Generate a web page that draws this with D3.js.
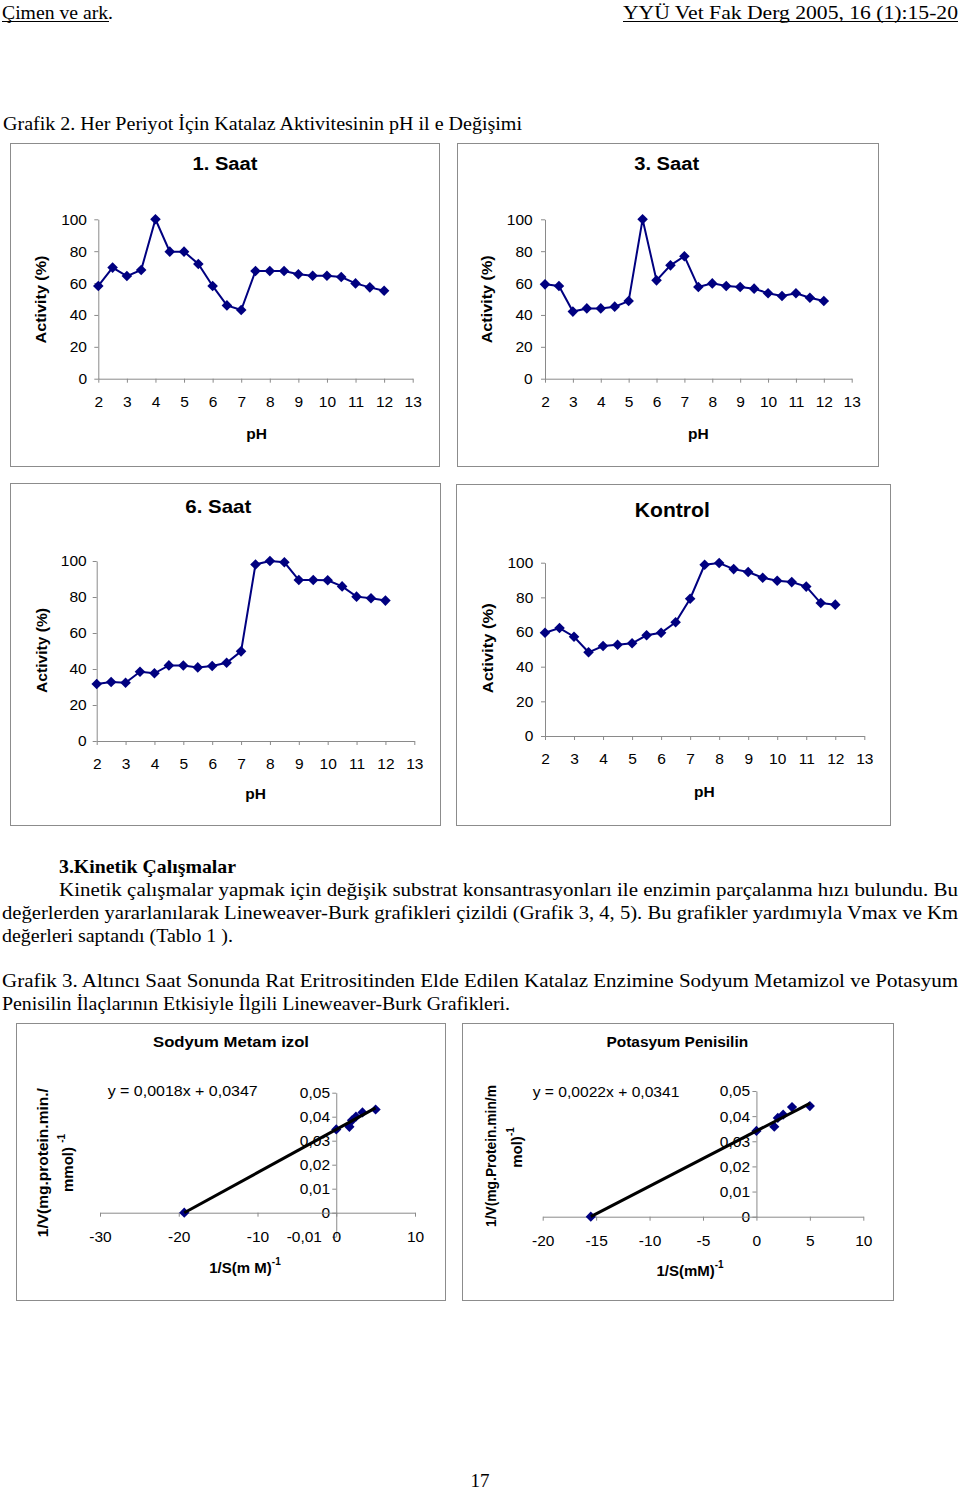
<!DOCTYPE html>
<html><head><meta charset="utf-8">
<script src="https://cdn.jsdelivr.net/npm/d3@7"></script>
<style>body{margin:0;background:#fff}svg{display:block}</style>
</head><body>
<svg id="page" width="960" height="1493"></svg>
<script>
// ---------- data ----------
const phValues = [2,2.5,3,3.5,4,4.5,5,5.5,6,6.5,7,7.5,8,8.5,9,9.5,10,10.5,11,11.5,12];
const phTicks = [2,3,4,5,6,7,8,9,10,11,12,13];
const activityTicks = [0,20,40,60,80,100];
const saat1 = [58.2,69.7,64.4,68.2,100,79.7,79.7,72.0,58.2,46.0,43.1,67.6,67.6,67.6,65.5,64.6,64.6,63.8,59.8,57.3,55.2];
const saat3 = [59.2,58.2,42.1,44.1,44.1,45.2,48.7,100,61.7,71.1,76.8,57.5,59.8,58.2,57.5,56.5,53.6,51.9,53.6,50.8,48.7];
const saat6 = [31.7,32.8,32.4,38.5,37.6,42.0,41.9,40.9,41.7,43.5,49.8,98.1,100,99.3,89.4,89.4,89.3,85.9,80.2,79.3,78.0];
const kontrol = [59.6,62.3,57.3,48.3,51.9,52.7,53.5,58.1,59.6,65.6,79.2,98.8,99.8,96.3,94.6,91.3,89.6,88.8,86.2,76.7,75.8];
const chartTitles = ["1. Saat","3. Saat","6. Saat","Kontrol"];

const smX = [-19.3,0,1.67,2,2.5,3.33,5];
const smY = [0,0.0347,0.0358,0.0385,0.0400,0.0418,0.0430];
const smTrend = [0.0018,0.0347];
const smXTicks = [-30,-20,-10,0,10];
const smXTickLabels = ["-30","-20","-10","0","10"];
const smYTicks = [-0.01,0,0.01,0.02,0.03,0.04,0.05];
const smYTickLabels = ["-0,01","0","0,01","0,02","0,03","0,04","0,05"];

const ppX = [-15.5,0,1.67,2,2.5,3.33,5];
const ppY = [0,0.0341,0.0358,0.0393,0.0406,0.0436,0.0440];
const ppTrend = [0.0022,0.0341];
const ppXTicks = [-20,-15,-10,-5,0,5,10];
const ppXTickLabels = ["-20","-15","-10","-5","0","5","10"];
const ppYTicks = [0,0.01,0.02,0.03,0.04,0.05];
const ppYTickLabels = ["0","0,01","0,02","0,03","0,04","0,05"];

// ---------- helpers ----------
const svg = d3.select("#page");
const SANS = "'Liberation Sans', Arial, Helvetica, sans-serif";
const SERIF = "'Liberation Serif', 'Times New Roman', serif";
const NAVY = "#000080";
const AXIS = "#8a8a8a";
const BORDER = "#8c8c8c";

function T(g, x, y, s, o = {}) {
  const t = g.append("text").attr("x", x).attr("y", y)
    .attr("font-family", o.family || SANS)
    .attr("font-size", o.size || 15)
    .attr("font-weight", o.weight || "normal")
    .attr("text-anchor", o.anchor || "start")
    .attr("fill", "#000");
  if (s !== null) t.text(s);
  if (o.central) t.attr("dominant-baseline", "central");
  if (o.len) t.attr("textLength", o.len).attr("lengthAdjust", "spacingAndGlyphs");
  if (o.rotate) t.attr("transform", `rotate(-90 ${x} ${y})`);
  return t;
}
function sup(t, main, supTxt, size) {
  t.append("tspan").text(main);
  t.append("tspan").text(supTxt).attr("font-size", size).attr("dy", -6);
}

// ---------- page text ----------
T(svg, 2, 19, "Çimen ve ark.", {family: SERIF, size: 19, len: 111});
svg.append("line").attr("x1", 2).attr("x2", 109).attr("y1", 21.5).attr("y2", 21.5).attr("stroke", "#000");
T(svg, 623, 19, "YYÜ Vet Fak Derg 2005, 16 (1):15-20", {family: SERIF, size: 19, len: 335});
svg.append("line").attr("x1", 623).attr("x2", 958).attr("y1", 21.5).attr("y2", 21.5).attr("stroke", "#000");
T(svg, 3, 130, "Grafik 2. Her Periyot İçin Katalaz Aktivitesinin  pH il e Değişimi", {family: SERIF, size: 19, len: 519});

T(svg, 59, 873, "3.Kinetik Çalışmalar", {family: SERIF, size: 19, weight: "bold", len: 177});
T(svg, 59, 896, "Kinetik çalışmalar yapmak için değişik substrat konsantrasyonları ile enzimin parçalanma hızı bulundu. Bu", {family: SERIF, size: 19, len: 899});
T(svg, 2, 919, "değerlerden yararlanılarak Lineweaver-Burk grafikleri çizildi (Grafik 3, 4, 5). Bu grafikler yardımıyla Vmax ve Km", {family: SERIF, size: 19, len: 956});
T(svg, 2, 942, "değerleri saptandı (Tablo 1 ).", {family: SERIF, size: 19, len: 231});
T(svg, 2, 987, "Grafik 3. Altıncı Saat Sonunda Rat Eritrositinden Elde Edilen Katalaz Enzimine  Sodyum Metamizol ve Potasyum", {family: SERIF, size: 19, len: 956});
T(svg, 2, 1010, "Penisilin İlaçlarının Etkisiyle İlgili Lineweaver-Burk Grafikleri.", {family: SERIF, size: 19, len: 508});
T(svg, 480, 1487, "17", {family: SERIF, size: 19, anchor: "middle"});

// ---------- pH charts ----------
const phCharts = [
  {data: saat1, title: chartTitles[0], box: [10,143,429,323], xr: [98.3,412.7], yr: [378.7,219.3], yLabR: 87, xLabY: 401.5, tc: [225,164], tw: 65, ts: 17.5, yl: [40.7,299.5], ylw: 88, ph: [256.7,433]},
  {data: saat3, title: chartTitles[1], box: [457,143,421,323], xr: [545,851.7], yr: [378.7,219.3], yLabR: 532.7, xLabY: 401.5, tc: [666.7,164], tw: 65, ts: 17.5, yl: [486.7,299.3], ylw: 88, ph: [698.3,433]},
  {data: saat6, title: chartTitles[2], box: [10,483,430,342], xr: [96.7,414.3], yr: [741,561], yLabR: 86.7, xLabY: 763.5, tc: [218.3,506.5], tw: 66, ts: 18.5, yl: [41.7,650.5], ylw: 85, ph: [255.7,793]},
  {data: kontrol, title: chartTitles[3], box: [456,484,434,341], xr: [545,864.3], yr: [736,562.7], yLabR: 533.3, xLabY: 758.3, tc: [672.3,510], tw: 75, ts: 19.5, yl: [487.3,648.3], ylw: 90, ph: [704.3,791.7]}
];

function styleAxis(a, size) {
  a.attr("font-family", SANS).attr("font-size", size);
  a.select(".domain").attr("stroke", AXIS);
  a.selectAll(".tick line").attr("stroke", AXIS);
  a.selectAll(".tick text").attr("fill", "#000");
}

phCharts.forEach(c => {
  const g = svg.append("g");
  g.append("rect").attr("x", c.box[0] + 0.5).attr("y", c.box[1] + 0.5)
    .attr("width", c.box[2]).attr("height", c.box[3])
    .attr("fill", "#fff").attr("stroke", BORDER);
  const x = d3.scaleLinear().domain([2,13]).range(c.xr);
  const y = d3.scaleLinear().domain([0,100]).range(c.yr);

  const ya = g.append("g").attr("transform", `translate(${c.xr[0]},0)`)
    .call(d3.axisLeft(y).tickValues(activityTicks).tickSize(4).tickSizeOuter(0).tickPadding(c.xr[0] - c.yLabR - 4));
  styleAxis(ya, 15.5);
  const xa = g.append("g").attr("transform", `translate(0,${c.yr[0]})`)
    .call(d3.axisBottom(x).tickValues(phTicks).tickSize(4).tickSizeOuter(0));
  styleAxis(xa, 15.5);
  xa.selectAll(".tick text").attr("y", c.xLabY - c.yr[0]).attr("dy", null).attr("dominant-baseline", "central");

  T(g, c.tc[0], c.tc[1], c.title, {size: c.ts, weight: "bold", anchor: "middle", central: true, len: c.tw});
  T(g, c.yl[0], c.yl[1], "Activity (%)", {size: 15.5, weight: "bold", anchor: "middle", central: true, len: c.ylw, rotate: true});
  T(g, c.ph[0], c.ph[1], "pH", {size: 15.5, weight: "bold", anchor: "middle", central: true});

  g.append("path").datum(c.data)
    .attr("d", d3.line().x((d, i) => x(phValues[i])).y(d => y(d)))
    .attr("fill", "none").attr("stroke", NAVY).attr("stroke-width", 2);
  g.selectAll("path.mk").data(c.data).join("path").attr("class", "mk")
    .attr("d", d3.symbol(d3.symbolSquare, 56))
    .attr("transform", (d, i) => `translate(${x(phValues[i])},${y(d)}) rotate(45)`)
    .attr("fill", NAVY);
});

// ---------- Lineweaver-Burk charts ----------
const lbCharts = [
  {xs: smX, ys: smY, trend: smTrend, xd: [-30,10], yd: [-0.01,0.05], xt: smXTicks, xtl: smXTickLabels, yt: smYTicks, ytl: smYTickLabels,
   box: [16,1023,429,277], xr: [100,415], yr: [1236.7,1092.7], yLabR: 330, xLabY: 1236.7,
   title: "Sodyum  Metam izol", tc: [231,1042], tw: 156,
   eq: "y = 0,0018x + 0,0347", eqp: [107.7,1090], eqw: 150,
   yl1: "1/V(mg.protein.min./", yl1p: [42.3,1162.7], yl1w: 149,
   yl2: "mmol) ", yl2p: [66.7,1163],
   xl: "1/S(m M)", xlp: [245,1266.7]},
  {xs: ppX, ys: ppY, trend: ppTrend, xd: [-20,10], yd: [0,0.05], xt: ppXTicks, xtl: ppXTickLabels, yt: ppYTicks, ytl: ppYTickLabels,
   box: [462,1023,431,277], xr: [542.7,863.3], yr: [1216.7,1091], yLabR: 750, xLabY: 1240.7,
   title: "Potasyum Penisilin", tc: [677.3,1042], tw: 141.7,
   eq: "y = 0,0022x + 0,0341", eqp: [532.7,1091.7], eqw: 146.7,
   yl1: "1/V(mg.Protein.min/m", yl1p: [490,1156], yl1w: 142,
   yl2: "mol)", yl2p: [515.7,1147.5],
   xl: "1/S(mM)", xlp: [690,1270]}
];

lbCharts.forEach(c => {
  const g = svg.append("g");
  g.append("rect").attr("x", c.box[0] + 0.5).attr("y", c.box[1] + 0.5)
    .attr("width", c.box[2]).attr("height", c.box[3])
    .attr("fill", "#fff").attr("stroke", BORDER);
  const x = d3.scaleLinear().domain(c.xd).range(c.xr);
  const y = d3.scaleLinear().domain(c.yd).range(c.yr);

  const ya = g.append("g").attr("transform", `translate(${x(0)},0)`)
    .call(d3.axisLeft(y).tickValues(c.yt).tickFormat((d, i) => c.ytl[i]).tickSize(4).tickSizeOuter(0).tickPadding(x(0) - c.yLabR - 4));
  styleAxis(ya, 15.5);
  // negative label sits a little further left so it clears the x-axis "0"
  ya.selectAll(".tick text").filter(d => d < 0).attr("x", -(x(0) - c.yLabR) - 8);
  const xa = g.append("g").attr("transform", `translate(0,${y(0)})`)
    .call(d3.axisBottom(x).tickValues(c.xt).tickFormat((d, i) => c.xtl[i]).tickSize(4).tickSizeOuter(0));
  styleAxis(xa, 15.5);
  xa.selectAll(".tick text").attr("y", c.xLabY - y(0)).attr("dy", null).attr("dominant-baseline", "central");

  T(g, c.tc[0], c.tc[1], c.title, {size: 14, weight: "bold", anchor: "middle", central: true, len: c.tw});
  T(g, c.eqp[0], c.eqp[1], c.eq, {size: 15, central: true, len: c.eqw});
  T(g, c.yl1p[0], c.yl1p[1], c.yl1, {size: 15, weight: "bold", anchor: "middle", central: true, len: c.yl1w, rotate: true});
  const t2 = T(g, c.yl2p[0], c.yl2p[1], null, {size: 15, weight: "bold", anchor: "middle", central: true, rotate: true});
  sup(t2, c.yl2, "-1", 10);
  const t3 = T(g, c.xlp[0], c.xlp[1], null, {size: 15, weight: "bold", anchor: "middle", central: true});
  sup(t3, c.xl, "-1", 10);

  const pts = c.xs.map((v, i) => [v, c.ys[i]]);
  g.selectAll("path.mk").data(pts).join("path").attr("class", "mk")
    .attr("d", d3.symbol(d3.symbolSquare, 52))
    .attr("transform", d => `translate(${x(d[0])},${y(d[1])}) rotate(45)`)
    .attr("fill", NAVY);
  const ext = d3.extent(c.xs);
  g.append("path").datum(ext)
    .attr("d", d3.line().x(d => x(d)).y(d => y(c.trend[0] * d + c.trend[1])))
    .attr("fill", "none").attr("stroke", "#000").attr("stroke-width", 3);
});
</script>
</body></html>
